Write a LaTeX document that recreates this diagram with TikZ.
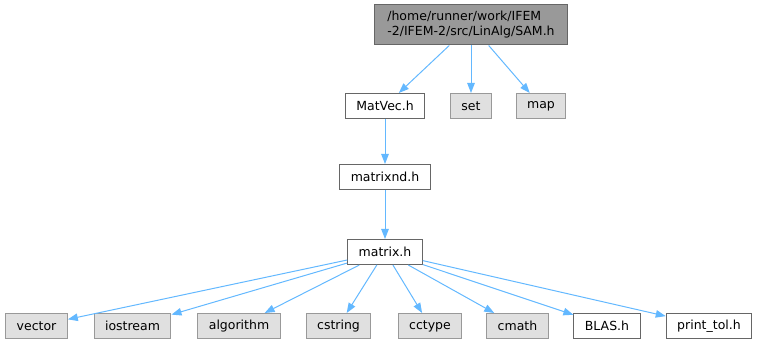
\documentclass[tikz,border=0pt]{standalone}
\usepackage{fontspec}
\setmainfont{DejaVu Sans}
\usepackage{xcolor}
\usepackage{tikz}
\usetikzlibrary{arrows.meta}

\definecolor{edgeblue}{HTML}{63B8FF}
\definecolor{rootgray}{HTML}{999999}
\definecolor{sysgray}{HTML}{E0E0E0}

\begin{document}
\begin{tikzpicture}[x=1pt, y=-1pt, auto,
    font=\fontsize{12.5}{15}\selectfont,
    filebox/.style={rectangle, draw=black!60, fill=white, line width=1pt, minimum height=25pt, inner xsep=11pt, inner ysep=2pt},
    sysbox/.style={filebox, draw=rootgray, fill=sysgray},
    rootbox/.style={filebox, fill=rootgray, align=left, minimum height=40pt, inner xsep=13pt},
    edge/.style={draw=edgeblue, line width=1pt, -{Triangle[length=10pt, width=7.5pt]}}]

    \useasboundingbox (0,0) rectangle (759,344);

    \node[rootbox] (SAM) at (471,25) {/home/runner/work/IFEM\\-2/IFEM-2/src/LinAlg/SAM.h};
    \node[sysbox, below of=SAM, node distance=81pt] (set) {set};
    \node[sysbox, right of=set, node distance=70pt] (map) {map};
    \node[filebox, left of=set, node distance=86pt] (MatVec) {MatVec.h};
    \node[filebox, below of=MatVec, node distance=71pt] (matrixnd) {matrixnd.h};
    \node[filebox, below of=matrixnd, node distance=75pt] (matrix) {matrix.h};

    \node[sysbox, below of=matrix, node distance=74pt, xshift=45pt] (cctype) {cctype};
    \node[sysbox, left of=cctype, node distance=91.5pt] (cstring) {cstring};
    \node[sysbox, left of=cstring, node distance=99.5pt] (algorithm) {algorithm};
    \node[sysbox, left of=algorithm, node distance=106.5pt] (iostream) {iostream};
    \node[sysbox, left of=iostream, node distance=96pt] (vector) {vector};
    \node[sysbox, right of=cctype, node distance=87.5pt] (cmath) {cmath};
    \node[filebox, right of=cmath, node distance=89.5pt] (BLAS) {BLAS.h};
    \node[filebox, right of=BLAS, node distance=102pt] (printtol) {print\_tol.h};

    \draw[edge] (SAM) -- (MatVec);
    \draw[edge] (SAM) -- (set);
    \draw[edge] (SAM) -- (map);
    \draw[edge] (MatVec) -- (matrixnd);
    \draw[edge] (matrixnd) -- (matrix);
    \foreach \dep in {vector, iostream, algorithm, cstring, cctype, cmath, BLAS, printtol}
        \draw[edge] (matrix) -- (\dep);
\end{tikzpicture}
\end{document}
